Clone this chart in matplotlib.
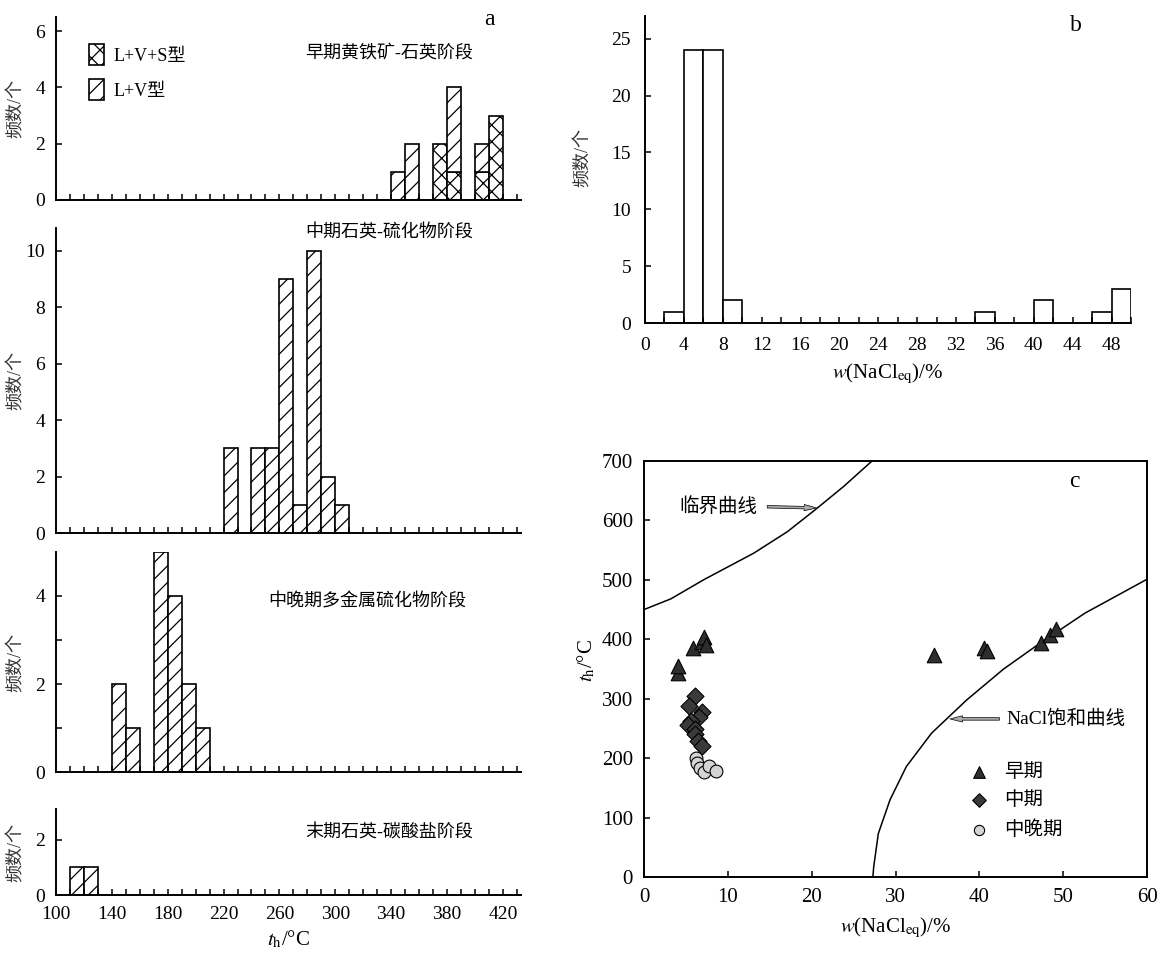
import matplotlib
matplotlib.use('Agg')
import matplotlib.pyplot as plt
from matplotlib.ticker import MultipleLocator, FixedLocator
from matplotlib.patches import Patch

plt.rcParams['font.family'] = ['Liberation Serif', 'Noto Sans CJK SC']
plt.rcParams['mathtext.fontset'] = 'stix'
plt.rcParams['hatch.linewidth'] = 0.9
plt.rcParams['axes.unicode_minus'] = False

# --- panel a: homogenization temperature histograms (10 degC bins, left edges)
early_lv_bins = [340, 350, 380, 400]
early_lv_counts = [1, 2, 3, 1]
early_lvs_bins = [370, 380, 400, 410]
early_lvs_counts = [2, 1, 1, 3]
mid_bins = [220, 240, 250, 260, 270, 280, 290, 300]
mid_counts = [3, 3, 3, 9, 1, 10, 2, 1]
midlate_bins = [140, 150, 170, 180, 190, 200]
midlate_counts = [2, 1, 5, 4, 2, 1]
late_bins = [110, 120]
late_counts = [1, 1]
stage_names = ['早期黄铁矿-石英阶段', '中期石英-硫化物阶段',
               '中晚期多金属硫化物阶段', '末期石英-碳酸盐阶段']
temp_ticks = [100, 140, 180, 220, 260, 300, 340, 380, 420]

# --- panel b: salinity histogram (2 wt% bins, left edges)
salinity_bins = [2, 4, 6, 8, 34, 40, 46, 48]
salinity_counts = [1, 24, 24, 2, 1, 2, 1, 3]

# --- panel c: salinity vs homogenization temperature
early_w = [4.0, 4.1, 5.8, 6.9, 7.1, 7.4, 34.6, 40.6, 40.9, 47.4, 48.4, 49.2]
early_t = [343, 355, 385, 396, 404, 390, 373, 385, 381, 394, 408, 418]
mid_w = [6.1, 5.4, 6.9, 6.6, 5.6, 5.2, 6.1, 6.1, 6.4, 6.9]
mid_t = [305, 288, 277, 270, 263, 255, 249, 240, 229, 221]
midlate_w = [6.2, 6.3, 6.7, 7.1, 7.8, 8.6]
midlate_t = [200, 191, 183, 177, 187, 179]
crit_w = [0, 3.2, 7.1, 13.1, 17.1, 20.6, 23.8, 27.2]
crit_t = [450, 468, 500, 545, 581, 620, 657, 700]
sat_w = [27.3, 27.4, 27.95, 29.35, 31.3, 34.3, 38.5, 42.9, 47.2, 52.6, 60]
sat_t = [0, 17, 73, 130, 186, 242, 298, 350, 393, 444, 501]

W, H = 1169, 955
fig = plt.figure(figsize=(W / 100, H / 100), dpi=100)


def px_axes(left, top, right, bottom):
    return fig.add_axes([left / W, 1 - bottom / H, (right - left) / W, (bottom - top) / H])


def style_hist(ax):
    for s in ['top', 'right']:
        ax.spines[s].set_visible(False)
    for s in ['left', 'bottom']:
        ax.spines[s].set_linewidth(1.4)
    ax.tick_params(which='both', direction='in', length=4, width=1.1, labelsize=14, pad=8)


bar_kw = dict(width=10, align='edge', facecolor='white', edgecolor='black', linewidth=1.2)

# panel a axes: top, mid, mid-late, late
a_boxes = [(56, 17, 521, 200), (56, 228, 521, 533), (56, 552, 521, 772), (56, 809, 521, 895)]
a_ylims = [6.5, 10.8, 5, 3.1]
a_yticks = [[0, 2, 4, 6], [0, 2, 4, 6, 8, 10], [0, 1, 2, 3, 4], [0, 2]]
a_text_pos = [(0.716, 0.80), (0.716, 0.985), (0.669, 0.773), (0.716, 0.72)]

axes_a = []
for i, box in enumerate(a_boxes):
    ax = px_axes(*box)
    style_hist(ax)
    ax.set_xlim(100, 433)
    ax.set_ylim(0, a_ylims[i])
    ax.xaxis.set_major_locator(FixedLocator(temp_ticks))
    ax.xaxis.set_minor_locator(MultipleLocator(10))
    ax.set_yticks(a_yticks[i])
    if i == 2:
        ax.set_yticklabels(['0', '', '2', '', '4'])
    if i < 3:
        ax.tick_params(labelbottom=False)
    ax.set_ylabel('频数/个', fontsize=13, color='#333333')
    ax.yaxis.set_label_coords(-0.067, 0.5)
    ax.text(*a_text_pos[i], stage_names[i], transform=ax.transAxes,
            ha='center', va='center', fontsize=13)
    axes_a.append(ax)

ax = axes_a[0]
lvs_map = dict(zip(early_lvs_bins, early_lvs_counts))
ax.bar(early_lvs_bins, early_lvs_counts, hatch='xx', **bar_kw)
ax.bar(early_lv_bins, early_lv_counts, bottom=[lvs_map.get(b, 0) for b in early_lv_bins],
       hatch='//', **bar_kw)
ax.text(0.931, 0.984, 'a', transform=ax.transAxes, ha='center', va='center', fontsize=17)
handles = [Patch(facecolor='white', edgecolor='black', hatch='xx', linewidth=1.2),
           Patch(facecolor='white', edgecolor='black', hatch='//', linewidth=1.2)]
ax.legend(handles, ['L+V+S型', 'L+V型'], loc='upper left', bbox_to_anchor=(0.071, 0.852),
          frameon=False, borderpad=0, borderaxespad=0, handlelength=0.85, handleheight=1.4,
          handletextpad=0.5, labelspacing=0.8, fontsize=13)

axes_a[1].bar(mid_bins, mid_counts, hatch='//', **bar_kw)
axes_a[2].bar(midlate_bins, midlate_counts, hatch='//', **bar_kw)
axes_a[3].bar(late_bins, late_counts, hatch='//', **bar_kw)
axes_a[3].set_xlabel(r'$t_{\rm h}$/°C', fontsize=15, labelpad=4)

# panel b
ax_b = px_axes(645, 16, 1131, 323)
style_hist(ax_b)
ax_b.tick_params(pad=10, which='both')
ax_b.bar(salinity_bins, salinity_counts, width=2, align='edge', facecolor='white',
         edgecolor='black', linewidth=1.2)
ax_b.set_xlim(0, 50)
ax_b.set_ylim(0, 27)
ax_b.xaxis.set_major_locator(MultipleLocator(4))
ax_b.xaxis.set_minor_locator(MultipleLocator(2))
ax_b.yaxis.set_major_locator(MultipleLocator(5))
ax_b.set_ylabel('频数/个', fontsize=13, color='#333333')
ax_b.yaxis.set_label_coords(-0.11, 0.54)
ax_b.set_xlabel(r'$w$(NaCl$_{\rm eq}$)/%', fontsize=15, labelpad=6)
ax_b.text(0.887, 0.97, 'b', transform=ax_b.transAxes, ha='center', va='center', fontsize=17)

# panel c
ax_c = px_axes(644, 461, 1147, 877)
for s in ax_c.spines.values():
    s.set_linewidth(1.4)
ax_c.tick_params(direction='in', length=4, width=1.1, labelsize=15, pad=8)
ax_c.plot(crit_w, crit_t, color='black', lw=1.1)
ax_c.plot(sat_w, sat_t, color='black', lw=1.1)
ax_c.scatter(early_w, early_t, marker='^', s=110, c='#2e2e2e', edgecolors='black',
             linewidths=0.8, label='早期', zorder=3)
ax_c.scatter(mid_w, mid_t, marker='D', s=75, c='#3a3a3a', edgecolors='black',
             linewidths=0.8, label='中期', zorder=3)
ax_c.scatter(midlate_w, midlate_t, marker='o', s=85, c='#d4d4d4', edgecolors='black',
             linewidths=0.8, label='中晚期', zorder=3)
ax_c.set_xlim(0, 60)
ax_c.set_ylim(0, 700)
ax_c.xaxis.set_major_locator(MultipleLocator(10))
ax_c.yaxis.set_major_locator(MultipleLocator(100))
ax_c.set_xlabel(r'$w$(NaCl$_{\rm eq}$)/%', fontsize=15, labelpad=6)
ax_c.set_ylabel(r'$t_{\rm h}$/°C', fontsize=15)
ax_c.yaxis.set_label_coords(-0.093, 0.52)
ax_c.text(0.855, 0.95, 'c', transform=ax_c.transAxes, ha='center', va='center', fontsize=17)

arrow_kw = dict(arrowstyle='simple,head_length=0.9,head_width=0.45,tail_width=0.18',
                fc='#aaaaaa', ec='black', lw=0.5, shrinkA=0, shrinkB=0)
ax_c.annotate('', xy=(20.6, 621), xytext=(14.7, 623), arrowprops=arrow_kw)
ax_c.text(8.9, 623, '临界曲线', ha='center', va='center', fontsize=14)
ax_c.annotate('', xy=(36.5, 266), xytext=(42.4, 266), arrowprops=arrow_kw)
ax_c.text(43.2, 266, 'NaCl饱和曲线', ha='left', va='center', fontsize=14)

ax_c.legend(loc='upper left', bbox_to_anchor=(0.646, 0.274), frameon=False, borderpad=0,
            borderaxespad=0, handlelength=1, handletextpad=0.8, labelspacing=0.55,
            fontsize=14, scatterpoints=1, markerscale=0.8)

fig.savefig('out.png', dpi=100)
